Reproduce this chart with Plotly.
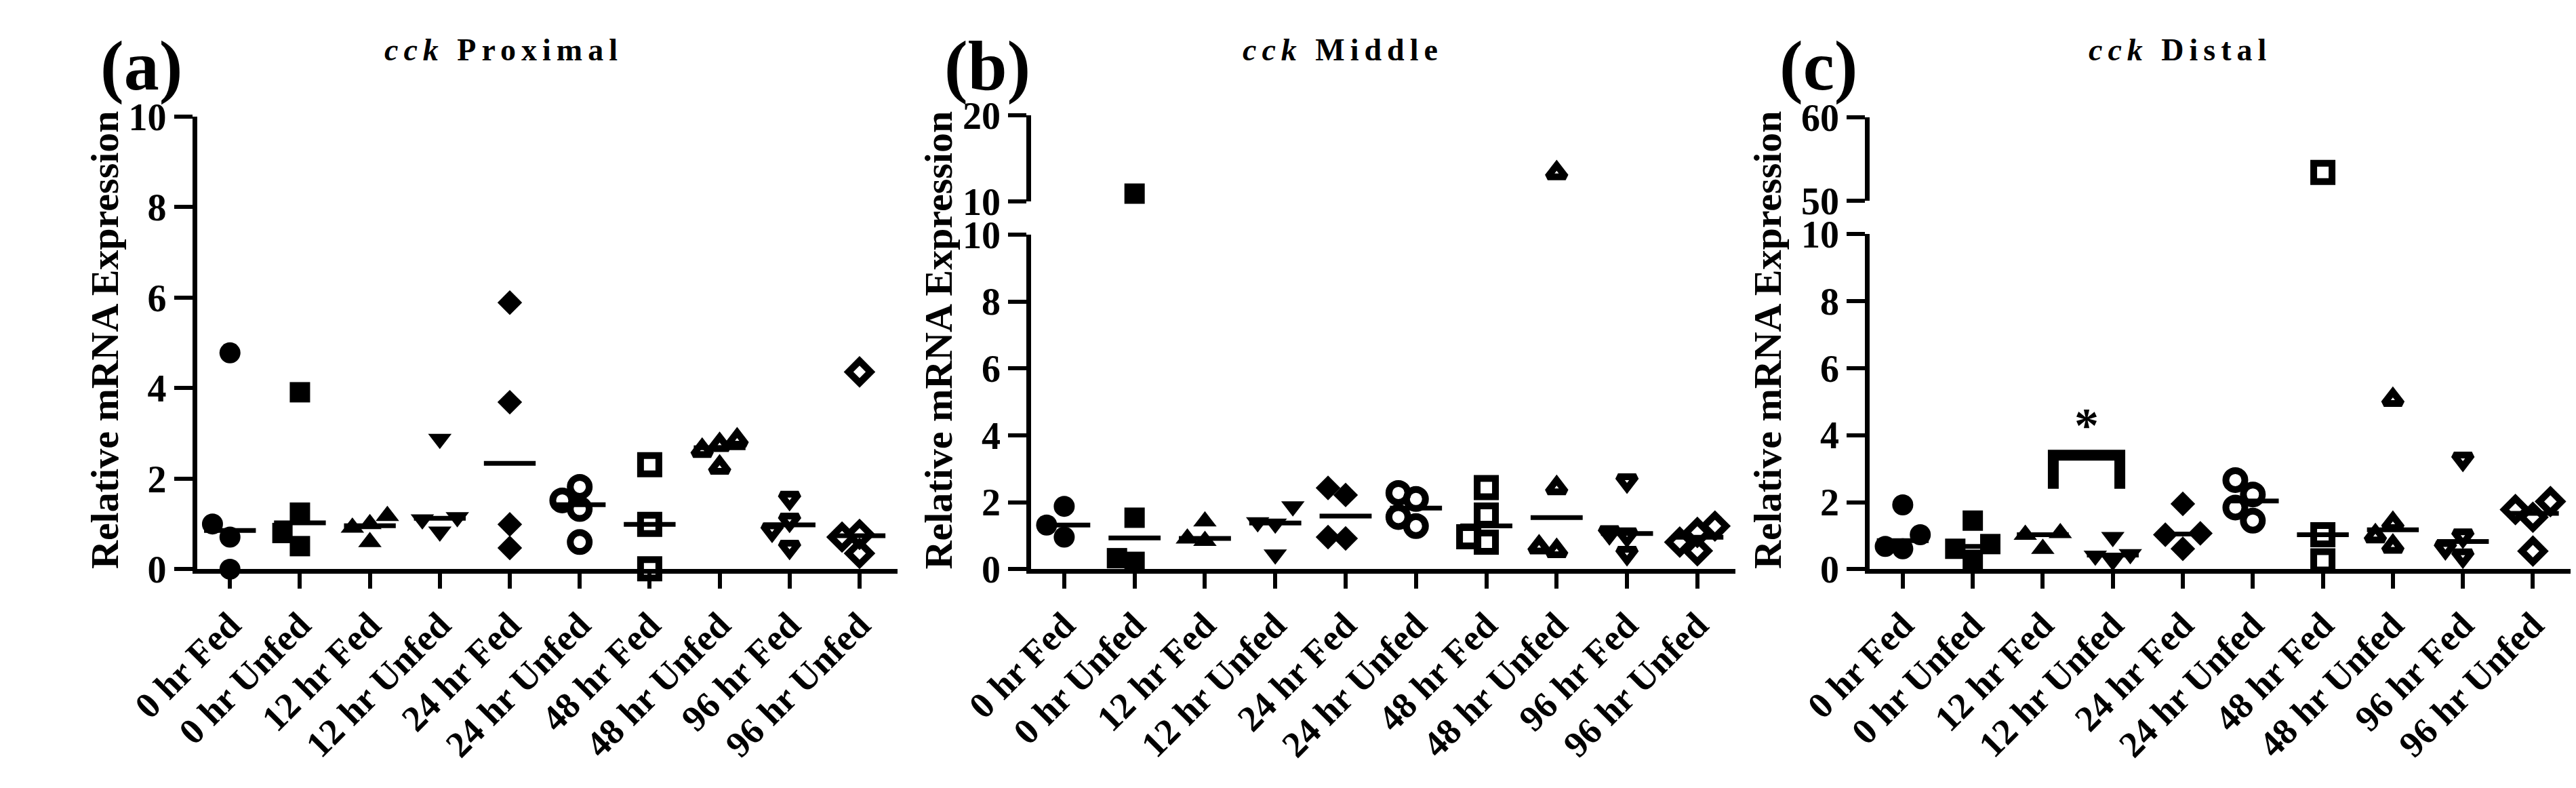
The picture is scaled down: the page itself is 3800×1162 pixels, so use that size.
import plotly.graph_objects as go

W, H = 3800, 1162

groups = ["0 hr Fed", "0 hr Unfed", "12 hr Fed", "12 hr Unfed", "24 hr Fed",
          "24 hr Unfed", "48 hr Fed", "48 hr Unfed", "96 hr Fed", "96 hr Unfed"]

# relative cck mRNA expression, one list per group
proximal = [
    [4.78, 1.00, 0.71, 0.00],
    [3.91, 1.25, 0.80, 0.51],
    [1.18, 1.00, 0.92, 0.60],
    [2.88, 1.15, 1.10, 0.83],
    [5.89, 3.69, 0.99, 0.47],
    [1.82, 1.52, 1.33, 0.60],
    [2.31, 0.99, 0.01],
    [2.85, 2.75, 2.62, 2.25],
    [1.57, 1.09, 0.87, 0.49],
    [4.36, 0.77, 0.71, 0.35],
]
middle = [
    [1.88, 1.32, 0.96],
    [10.9, 1.54, 0.33, 0.22],
    [1.43, 0.92, 0.85],
    [1.88, 1.40, 1.36, 0.44],
    [2.43, 2.22, 0.96, 0.92],
    [2.28, 2.10, 1.56, 1.29],
    [2.44, 1.62, 0.97, 0.81],
    [13.3, 2.43, 0.66, 0.55],
    [2.65, 1.10, 1.03, 0.48],
    [1.29, 1.10, 0.81, 0.55],
]
distal = [
    [1.92, 1.03, 0.68, 0.61],
    [1.45, 0.75, 0.61, 0.28],
    [1.08, 1.03, 0.61],
    [0.96, 0.45, 0.40, 0.25],
    [1.95, 1.07, 1.03, 0.61],
    [2.66, 2.23, 1.84, 1.45],
    [53.4, 1.03, 0.25],
    [5.06, 1.36, 0.99, 0.68],
    [3.29, 1.00, 0.65, 0.40],
    [2.02, 1.78, 1.55, 0.54],
]

lower_ticks = [0, 2, 4, 6, 8, 10]
sig_pair = ("12 hr Fed", "12 hr Unfed")   # significant pair in distal
sig_bar = (2.4, 3.4)                      # bracket foot / top

symbols = ["circle", "square", "triangle-up", "triangle-down", "diamond",
           "circle-open", "square-open", "triangle-up-open",
           "triangle-down-open", "diamond-open"]
sizes = [31, 30, 30, 30, 28, 28, 27, 23, 23, 25]

FONT = "Liberation Serif"
ZERO = 855          # pixel row of y = 0
CAT = 106.2         # pixel width of one category

panels = [
    dict(title="Proximal", letter="(a)", data=proximal, x0=192, x1=1254,
         top=150, upper=None, title_x=657, ytitle_x=52, letter_x=107),
    dict(title="Middle", letter="(b)", data=middle, x0=1457, x1=2525,
         top=334, upper=(10, 20, 282, 148), title_x=1930, ytitle_x=1316,
         letter_x=1391),
    dict(title="Distal", letter="(c)", data=distal, x0=2729, x1=3792,
         top=333, upper=(50, 60, 281, 151), title_x=3200, ytitle_x=2574,
         letter_x=2651),
]


def ypix(p, v):
    if p["upper"] is not None and v > 10:
        lo, hi, pb, pt = p["upper"]
        return pb - (v - lo) * (pb - pt) / (hi - lo)
    return ZERO - v * (ZERO - p["top"]) / 10


def spread(p, vals, diam=34, step=0.25):
    # simple column-scatter: nudge points sideways when they would overlap
    order = sorted(range(len(vals)), key=lambda k: vals[k])
    offs = [0.0] * len(vals)
    placed = []
    for k in order:
        for cand in (0, -step, step, -2 * step, 2 * step):
            ok = True
            for j in placed:
                dy = abs(ypix(p, vals[k]) - ypix(p, vals[j]))
                dx = abs(cand - offs[j]) * CAT
                if dy < 0.8 * diam and dx < 0.75 * diam:
                    ok = False
                    break
            if ok:
                break
        offs[k] = cand
        placed.append(k)
    return offs


def median(vals):
    s = sorted(vals)
    n = len(s)
    return s[n // 2] if n % 2 else (s[n // 2 - 1] + s[n // 2]) / 2


axis_style = dict(showline=True, linewidth=7, linecolor="black", ticks="outside",
                  tickwidth=6, tickcolor="black", showgrid=False, zeroline=False,
                  tickfont=dict(family=FONT, size=56, color="black", weight="bold"),
                  fixedrange=True)

fig = go.Figure()
layout = dict(width=W, height=H, margin=dict(l=0, r=0, t=0, b=0),
              paper_bgcolor="white", plot_bgcolor="white", showlegend=False,
              annotations=[], shapes=[])

yidx = 1
for n, p in enumerate(panels):
    xname = "x" if n == 0 else "x%d" % (n + 1)
    low = "y" if yidx == 1 else "y%d" % yidx
    upp = None
    if p["upper"] is not None:
        upp = "y%d" % (yidx + 1)

    layout[xname.replace("x", "xaxis")] = dict(
        axis_style, domain=[p["x0"] / W, p["x1"] / W], range=[-0.47, 9.54],
        anchor=low, tickvals=list(range(len(groups))), ticktext=groups,
        tickangle=-45, ticklen=22,
        tickfont=dict(family=FONT, size=54, color="black", weight="bold"))
    layout[low.replace("y", "yaxis")] = dict(
        axis_style, domain=[(H - ZERO) / H, (H - p["top"]) / H], range=[0, 10],
        anchor=xname, tickvals=lower_ticks, ticklen=27)
    if upp:
        lo, hi, pb, pt = p["upper"]
        layout[upp.replace("y", "yaxis")] = dict(
            axis_style, domain=[(H - pb) / H, (H - pt) / H], range=[lo, hi],
            anchor=xname, tickvals=[lo, hi], ticklen=27)

    for i, vals in enumerate(p["data"]):
        offs = spread(p, vals)
        open_ = symbols[i].endswith("open")
        for seg, axis in ((False, low), (True, upp)):
            pts = [(i + o, v) for o, v in zip(offs, vals)
                   if (upp is not None and v > 10) == seg]
            if not pts:
                continue
            fig.add_trace(go.Scatter(
                x=[q[0] for q in pts], y=[q[1] for q in pts], mode="markers",
                xaxis=xname, yaxis=axis, cliponaxis=False, hoverinfo="skip",
                marker=dict(symbol=symbols[i], size=sizes[i], color="black",
                            line=dict(color="black", width=10 if open_ else 0))))
        m = median(vals)
        fig.add_trace(go.Scatter(
            x=[i - 0.37, i + 0.37], y=[m, m], mode="lines", xaxis=xname,
            yaxis=low, cliponaxis=False, hoverinfo="skip",
            line=dict(color="black", width=7)))

    layout["annotations"] += [
        dict(text="<i>cck</i> " + p["title"], xref="paper", yref="paper",
             x=p["title_x"] / W, y=1 - 46 / H, showarrow=False,
             xanchor="center", yanchor="middle",
             font=dict(family=FONT, size=46, color="black", weight="bold")),
        dict(text=p["letter"], xref="paper", yref="paper",
             x=p["letter_x"] / W, y=1 - 71 / H, showarrow=False,
             xanchor="center", yanchor="middle",
             font=dict(family=FONT, size=104, color="black", weight="bold")),
        dict(text="Relative mRNA Expression", xref="paper", yref="paper",
             x=p["ytitle_x"] / W, y=1 - 498 / H, showarrow=False, textangle=-90,
             xanchor="center", yanchor="middle",
             font=dict(family=FONT, size=58, color="black", weight="bold")),
    ]

    if n == 2:
        a = groups.index(sig_pair[0]) + 0.15
        b = groups.index(sig_pair[1]) + 0.1
        foot, top = sig_bar
        layout["shapes"].append(dict(
            type="path", xref=xname, yref=low,
            path="M %f,%f L %f,%f L %f,%f L %f,%f" % (a, foot, a, top, b, top, b, foot),
            line=dict(color="black", width=16)))
        layout["annotations"].append(dict(
            text="*", xref=xname, yref=low, x=(a + b) / 2, y=top + 0.9,
            showarrow=False, xanchor="center", yanchor="middle",
            font=dict(family=FONT, size=72, color="black", weight="bold")))

    yidx += 2 if upp else 1

fig.update_layout(**layout)

# panel titles are letter-spaced in the original figure
js = ("document.body.style.margin='0';"
      "document.querySelectorAll('.annotation-text').forEach(function(t){"
      "if(t.textContent.indexOf('cck')===0){t.style.letterSpacing='8px';}});")
fig.write_html("out.html", config={"displayModeBar": False}, post_script=js)
